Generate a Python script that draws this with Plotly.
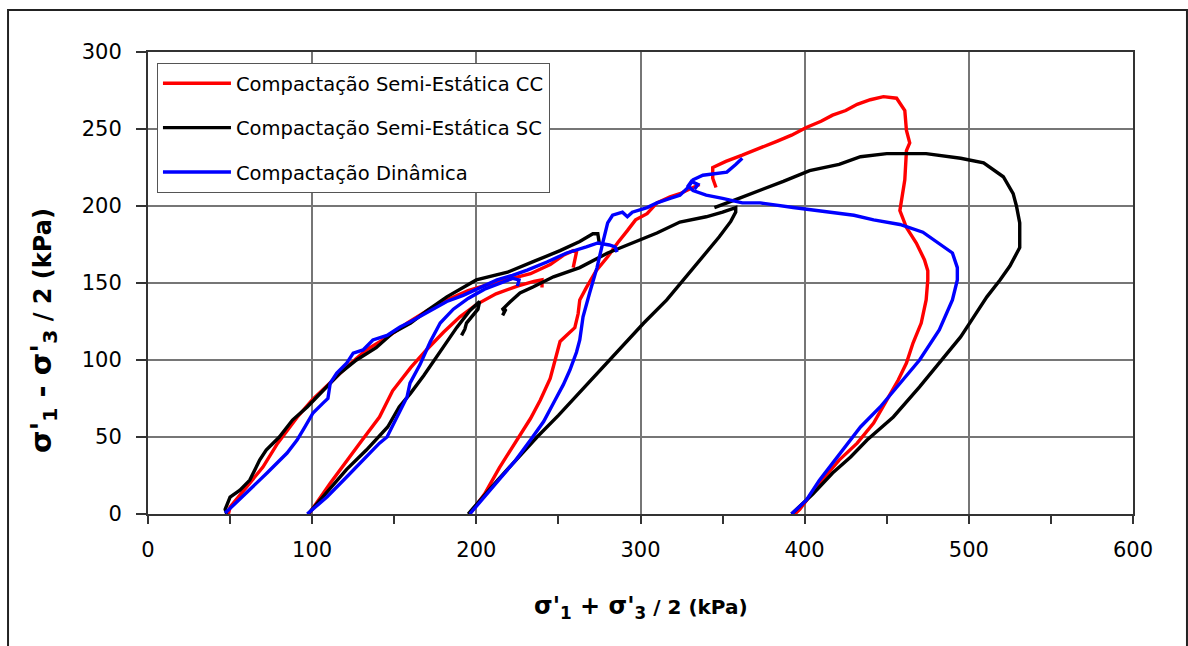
import plotly.graph_objects as go

# ---------------- data (p' = (s1+s3)/2 , q = (s1-s3)/2, kPa) ----------------
# Compactação Semi-Estática CC (red) – four stress paths separated by None
cc_p = [49, 50, 60, 70, 79, 91, 100, 111, 121, 133, 146, 158, 170, 182, 195, 207, 219, 233, 245, 253, 259, 261, 259, None,
        98, 111, 129, 141, 149, 160, 170, 180, 190, 200, 212, 225, 235, 240, 240, None,
        196, 205, 214, 225, 233, 239, 245, 248, 251, 256, 260, 262, 263, 267, 273, 280, 286, 292, 297, 304, 310, 318, 324, 330, 336, None,
        394, 397, 409, 421, 432, 442, 450, 457, 462, 466, 471, 474, 475, 475, 473, 468, 462, 458, 461, 462, 464, 462, 461, 456, 448,
        440, 432, 425, 417, 410, 401, 392, 383, 372, 362, 352, 344, 344, 346]
cc_q = [0, 4.5, 17.5, 30.5, 46, 63, 74, 85, 95.5, 106.5, 115, 124, 132, 139, 145, 149, 152, 156, 162, 168, 171, 170, 160, None,
        0, 20, 46, 63, 80, 95, 107, 118, 128, 136, 143, 148, 151, 152, 147, None,
        0, 13, 30, 48, 62, 74, 88, 100, 112, 117, 121, 130, 139, 147, 158, 167, 176, 184, 191, 195, 202, 206, 208, 211, 214, None,
        0, 3, 20, 35, 46, 59, 74, 87, 98, 111, 124, 139, 152, 158, 165, 176, 186, 197, 217, 236, 241, 249, 262, 270, 271,
        269, 266, 262, 259, 255, 251, 246, 242, 237, 233, 229, 225, 218, 212]

# Compactação Semi-Estática SC (black)
sc_p = [48, 47, 50, 56, 62, 68, 72, 80, 88, 97, 107, 117, 127, 139, 149, 160, 170, 182, 200, 219, 235, 251, 263, 271, 274, 275, None,
        97.5, 109, 121, 133, 146, 153, 160, 168, 178, 188, 196, 202, 201, 197, 194, 193, 191, None,
        195, 203, 213, 225, 237, 250, 262, 275, 288, 302, 316, 326, 336, 348, 355, 358, 358, 350, 340, 324, 310, 295, 280, 263,
        247, 234.5, 226.6, 220.5, 215.6, 218, 216, None,
        392, 405, 417, 428, 438, 454, 470, 482, 495, 503, 511, 519, 525, 531, 531, 529, 527, 521, 509, 495, 474, 450, 434, 421,
        403, 387, 373, 360, 345]
sc_q = [0, 3, 11, 15.5, 22, 35, 41.5, 50, 61, 69.5, 80.5, 91.5, 100, 108, 117.5, 124, 132, 141, 152, 157, 164, 171, 177, 182, 182, 175, None,
        0, 14, 29, 41.5, 56.5, 69.5, 78.5, 90, 106, 121, 132, 138, 133, 128, 124, 120, 116, None,
        0, 10, 22, 36, 50, 64, 78, 93, 108, 124, 139, 152, 165, 180, 190, 196, 199, 196, 193, 189.6, 182.5, 176, 169.5, 160,
        154, 147.4, 143.5, 137.7, 132.5, 133, 129, None,
        0, 13, 26.6, 37, 48, 63, 82.5, 98, 115, 128, 141, 152, 161, 173, 189, 200, 208, 219, 228, 231, 234, 234, 232, 227,
        223, 216, 210, 205, 199]

# Compactação Dinâmica (blue)
din_p = [47, 60, 72.5, 84.7, 90.8, 95.6, 100.5, 106.6, 109.6, 111, 115, 121, 125, 131, 137, 145.6, 153.5, 159.6, 170, 182, 192,
         202, 212.6, 222, 231, 243, 255, 267, 274, 281, 284.5, 285.7, None,
         97, 109, 121, 133, 141, 145.6, 151.7, 157.8, 159.6, 165.7, 172, 178, 186, 195, 205, 215, 222, 226, 225, None,
         196, 205, 214, 224, 233, 241, 248, 253, 257, 261, 263, 265, 269, 273.5, 277, 280, 283, 289, 292, 295, 304, 310, 318,
         324, 329, 332, 338, 345, 352.6, 358, 362, None,
         392, 401, 409, 421.5, 434, 446, 458, 470, 482, 490, 493, 493, 490, 481, 472, 458, 442, 430, 414, 393, 373, 362, 350,
         340, 332, 329, 331, 335, 333]
din_q = [0.6, 13.6, 26.6, 39.6, 48, 56.5, 65.6, 72, 75, 85, 91.5, 98, 104.5, 106.5, 113, 116, 121.4, 124.7, 131, 138, 142,
         146.8, 152, 155, 158.4, 163.6, 169.5, 173.4, 176, 174.7, 173.4, 170, None,
         0, 11, 24, 37, 46, 50, 63, 76, 85, 97, 112, 124, 133, 140, 146, 150, 153, 152, 148, None,
         0, 11, 22, 35, 48, 60, 74, 84, 93.5, 105, 113, 128, 143.5, 160, 176, 189, 194, 196, 193, 196, 199, 202, 205,
         207, 212, 217, 220, 221, 222, 227, 231, None,
         0, 9, 22, 39.6, 56.5, 69.5, 85, 100, 119.5, 139, 152, 160, 169.5, 176, 183, 188, 191, 194, 196, 199, 202, 202, 205,
         207, 210, 213, 216, 214, 211]

series_names = ["Compactação Semi-Estática CC", "Compactação Semi-Estática SC", "Compactação Dinâmica"]
series_colors = ["#FF0000", "#000000", "#0000FF"]

x_ticks = [0, 100, 200, 300, 400, 500, 600]
y_ticks = [0, 50, 100, 150, 200, 250, 300]

# ---------------- figure ----------------
fig = go.Figure()
for name, color, xs, ys in zip(series_names, series_colors, [cc_p, sc_p, din_p], [cc_q, sc_q, din_q]):
    fig.add_trace(go.Scatter(x=xs, y=ys, mode="lines", name=name, legendgroup=name,
                             line=dict(color=color, width=3.4), connectgaps=False))

tick_font = dict(family="DejaVu Sans", size=21, color="#000000")
grid_col = "#767676"
line_col = "#333333"

fig.update_xaxes(range=[0, 600], tickvals=x_ticks, ticks="outside", ticklen=8, tickwidth=1.5, tickcolor=line_col,
                 showgrid=True, gridcolor=grid_col, gridwidth=1.6, zeroline=False,
                 showline=True, linecolor=line_col, linewidth=2, mirror=True,
                 minor=dict(dtick=50, ticks="outside", ticklen=8, tickwidth=1.5, tickcolor=line_col, showgrid=False),
                 tickfont=tick_font, ticklabelstandoff=8)
fig.update_yaxes(range=[0, 300], tickvals=y_ticks, ticks="outside", ticklen=10, tickwidth=1.5, tickcolor=line_col,
                 showgrid=True, gridcolor=grid_col, gridwidth=1.6, zeroline=False,
                 showline=True, linecolor=line_col, linewidth=2, mirror=True,
                 tickfont=tick_font, ticklabelstandoff=10)

fig.update_layout(
    width=1188, height=646,
    margin=dict(l=148, r=55, t=52, b=132),
    paper_bgcolor="white", plot_bgcolor="white",
    showlegend=True,
    legend=dict(x=0.0091, y=0.976, xanchor="left", yanchor="top",
                bgcolor="white", bordercolor="#555555", borderwidth=1,
                font=dict(family="DejaVu Sans", size=19.5, color="#000000"),
                traceorder="grouped", tracegroupgap=16, itemwidth=68),
    font=dict(family="DejaVu Sans", color="#000000"),
)

# axis titles
fig.add_annotation(xref="paper", yref="paper", x=0.5, y=-0.2013, xanchor="center", yanchor="middle",
                   showarrow=False,
                   text="<b><span style='font-size:24px'>σ'<sub>1</sub> + σ'<sub>3</sub></span> / 2 (kPa)</b>",
                   font=dict(family="DejaVu Sans", size=20, color="#000000"))
fig.add_annotation(xref="paper", yref="paper", x=-0.1066, y=0.398, xanchor="center", yanchor="middle",
                   showarrow=False, textangle=-90,
                   text="<b><span style='font-size:29px'>σ'<sub>1</sub> - σ'<sub>3</sub></span> / 2 (kPa)</b>",
                   font=dict(family="DejaVu Sans", size=24, color="#000000"))

# outer chart frame
fig.add_shape(type="rect", xref="paper", yref="paper", x0=-0.1421, x1=1.0548, y0=-0.45, y1=1.0909,
              line=dict(color="#222222", width=2), fillcolor="rgba(0,0,0,0)", layer="above")

fig.write_html("out.html")
